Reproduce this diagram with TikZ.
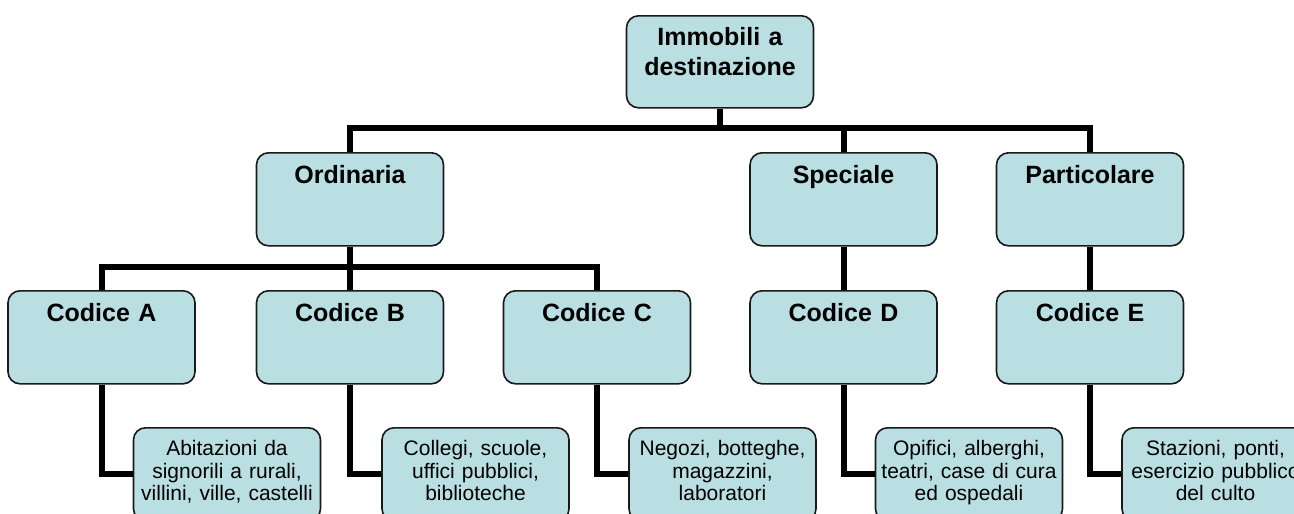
\documentclass[tikz,border=0pt]{standalone}
\usepackage{fontspec}
\setmainfont{Liberation Sans}
\definecolor{boxfill}{RGB}{185,223,227}
\begin{document}
\begin{tikzpicture}[x=1pt,y=-1pt,
  box/.style={draw=black!90, line width=1.6pt, fill=boxfill, rounded corners=12pt,
    inner xsep=0pt, inner ysep=0pt, text width=187pt, align=center, anchor=north},
  titlebox/.style={box, font=\bfseries\fontsize{25}{30}\selectfont, text height=31pt, text depth=62pt},
  rootbox/.style={box, font=\bfseries\fontsize{25}{30}\selectfont, text height=30pt, text depth=62pt},
  leafbox/.style={box, font=\fontsize{21}{22.5}\selectfont, text height=28pt, text depth=65pt},
  conn/.style={line width=6pt, black, line join=miter}]
\useasboundingbox (0,0) rectangle (1294,514);
\clip (0,0) rectangle (1294,514);
% connectors first (behind boxes)
\node[rootbox] (root) at (720,15) {Immobili a\\destinazione};
\node[titlebox] (ord) at (350,152) {Ordinaria};
\node[titlebox] (spe) at (843.5,152) {Speciale};
\node[titlebox] (par) at (1090,152) {Particolare};
\node[titlebox] (ca) at (101.5,290) {Codice A};
\node[titlebox] (cb) at (350,290) {Codice B};
\node[titlebox] (cc) at (597,290) {Codice C};
\node[titlebox] (cd) at (843.5,290) {Codice D};
\node[titlebox] (ce) at (1090,290) {Codice E};
\node[leafbox] (la) at (227,427) {Abitazioni da\\signorili a rurali,\\villini, ville, castelli};
\node[leafbox] (lb) at (475.5,427) {Collegi, scuole,\\uffici pubblici,\\biblioteche};
\node[leafbox] (lc) at (722.5,427) {Negozi, botteghe,\\magazzini,\\laboratori};
\node[leafbox] (ld) at (969,427) {Opifici, alberghi,\\teatri, case di cura\\ed ospedali};
\node[leafbox] (le) at (1215.5,427) {Stazioni, ponti,\\esercizio pubblico\\del culto};
\begin{scope}[on background layer/.style={}]
\coordinate (b1) at (720,128);
\coordinate (b2) at (350,267);
\draw[conn] (root.south) -- (b1);
\draw[conn] (ord.north) -- (ord.north |- b1) -- (par.north |- b1) -- (par.north);
\draw[conn] (spe.north) -- (spe.north |- b1);
\draw[conn] (ord.south) -- (b2);
\draw[conn] (ca.north) -- (ca.north |- b2) -- (cc.north |- b2) -- (cc.north);
\draw[conn] (cb.north) -- (cb.north |- b2);
\draw[conn] (spe.south) -- (cd.north);
\draw[conn] (par.south) -- (ce.north);
\draw[conn] (ca.south) |- (la.west);
\draw[conn] (cb.south) |- (lb.west);
\draw[conn] (cc.south) |- (lc.west);
\draw[conn] (cd.south) |- (ld.west);
\draw[conn] (ce.south) |- (le.west);
\end{scope}
\end{tikzpicture}
\end{document}
